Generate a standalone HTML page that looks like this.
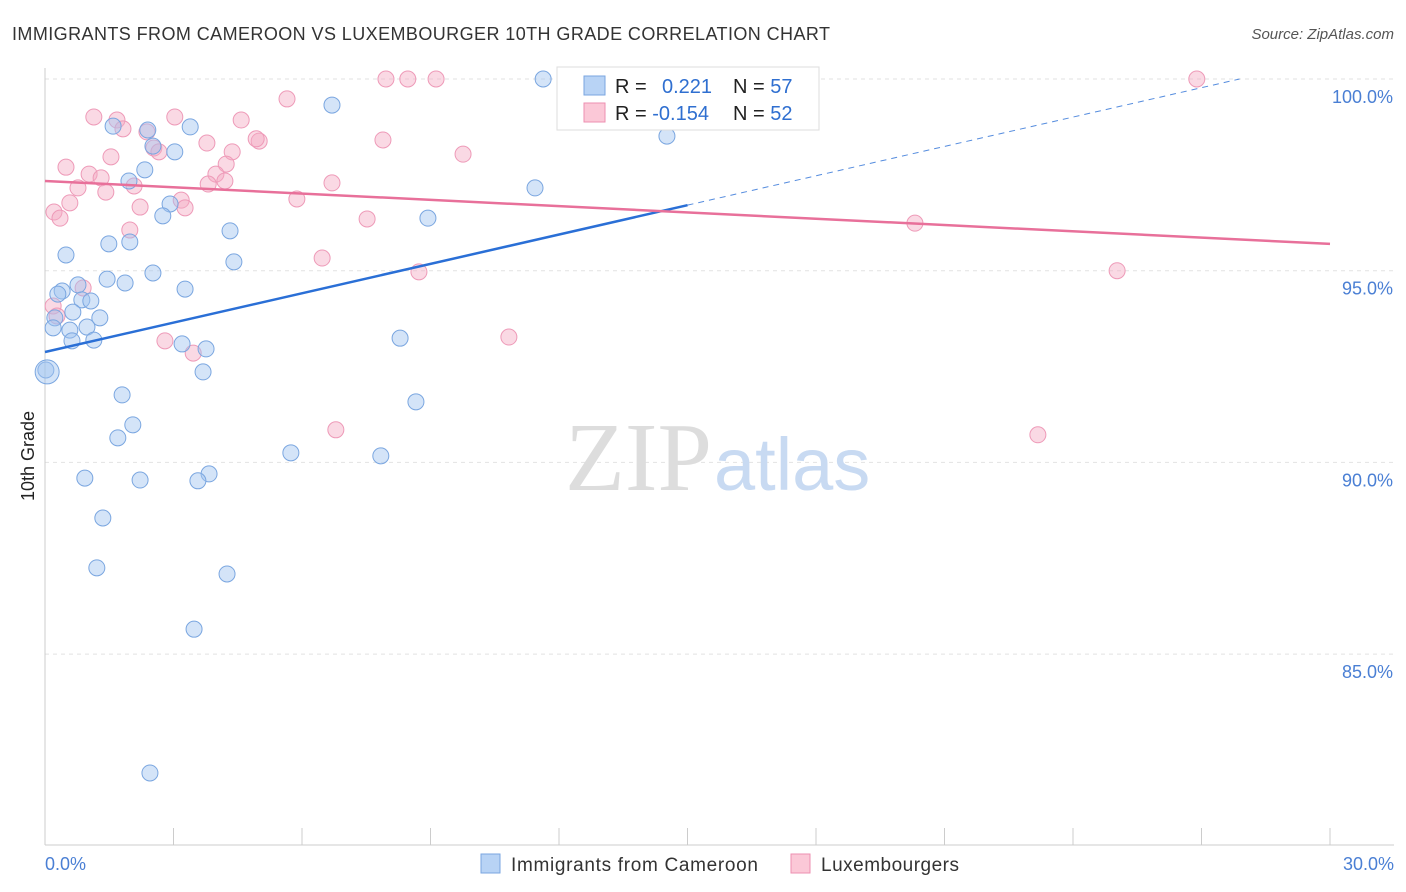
<!DOCTYPE html>
<html><head><meta charset="utf-8"><style>
body{margin:0;background:#fff;font-family:"Liberation Sans",sans-serif;}
svg{display:block}
</style></head><body>
<svg id="chart" width="1406" height="892">
<text x="12" y="40" font-size="18" fill="#333" textLength="818">IMMIGRANTS FROM CAMEROON VS LUXEMBOURGER 10TH GRADE CORRELATION CHART</text>
<text x="1394" y="39" font-size="15" fill="#555" font-style="italic" text-anchor="end">Source: ZipAtlas.com</text>
<g id="grid"></g>
<text x="712" y="490" font-size="98" font-family="Liberation Serif,serif" fill="#ddd" text-anchor="end">ZIP</text>
<text x="714" y="490" font-size="74" fill="#c8daf2">atlas</text>
<text transform="translate(34,456) rotate(-90)" font-size="18" fill="#222" text-anchor="middle">10th Grade</text>
<g id="pts"></g>
<g id="lines"></g>
<g>
<rect x="557" y="67" width="262" height="63" fill="#fff" stroke="#ddd"/>
<rect x="584" y="76" width="21" height="19" fill="#b8d3f5" stroke="#7aa6e0"/>
<rect x="584" y="103" width="21" height="19" fill="#fbc8d7" stroke="#ee8fb0"/>
<text x="615" y="93" font-size="20" fill="#222">R = <tspan fill="#2f6fd0" x="662">0.221</tspan></text>
<text x="733" y="93" font-size="20" fill="#222">N = <tspan fill="#2f6fd0">57</tspan></text>
<text x="615" y="120" font-size="20" fill="#222">R = <tspan fill="#2f6fd0">-0.154</tspan></text>
<text x="733" y="120" font-size="20" fill="#222">N = <tspan fill="#2f6fd0">52</tspan></text>
</g>
<text x="45" y="870" font-size="18" fill="#4a7fd4">0.0%</text>
<text x="1394" y="870" font-size="18" fill="#4a7fd4" text-anchor="end">30.0%</text>
<g>
<rect x="481" y="854" width="19" height="19" fill="#b8d3f5" stroke="#7aa6e0"/>
<text x="511" y="871" font-size="19" fill="#333" textLength="247">Immigrants from Cameroon</text>
<rect x="791" y="854" width="19" height="19" fill="#fbc8d7" stroke="#ee8fb0"/>
<text x="821" y="871" font-size="19" fill="#333" textLength="138">Luxembourgers</text>
</g>
</svg>
<script>
const blueX=[11.63,6.70,1.59,2.40,3.39,14.52,2.52,3.03,2.33,1.96,11.44,2.92,2.75,8.94,4.32,1.49,1.98,0.49,4.41,2.52,1.45,1.87,3.27,0.77,0.40,0.30,0.86,1.07,0.65,1.28,0.23,0.19,0.58,0.98,0.63,1.14,3.20,3.76,8.29,0.02,0.05,3.69,1.80,8.66,2.05,1.70,5.74,7.84,0.93,2.22,3.83,3.57,1.35,1.21,4.25,3.48,2.45];
const blueY=[100.0,99.32,98.77,98.67,98.75,98.51,98.25,98.10,97.63,97.34,97.16,96.74,96.43,96.37,96.04,95.70,95.75,95.41,95.23,94.94,94.78,94.68,94.52,94.63,94.47,94.39,94.24,94.21,93.92,93.77,93.77,93.51,93.45,93.53,93.17,93.19,93.09,92.96,93.24,92.41,92.36,92.36,91.76,91.58,90.98,90.64,90.25,90.17,89.59,89.54,89.70,89.52,88.55,87.25,87.09,85.65,81.90];
const pinkX=[26.89,7.96,8.47,9.13,5.65,1.14,3.03,1.68,1.82,2.38,4.58,5.00,4.93,3.78,2.54,2.66,4.37,7.89,9.76,1.54,4.23,0.49,3.99,1.03,1.31,2.08,3.81,4.20,6.70,0.77,1.42,3.18,5.88,0.58,2.22,3.27,0.21,0.35,7.52,20.31,1.98,6.47,8.73,25.03,0.89,0.19,2.80,3.46,10.83,6.79,23.18,0.28];
const pinkY=[100.0,100.0,100.0,100.0,99.48,99.01,99.01,98.93,98.70,98.62,98.93,98.38,98.44,98.33,98.20,98.10,98.10,98.41,98.04,97.97,97.78,97.70,97.52,97.52,97.42,97.21,97.26,97.34,97.29,97.16,97.05,96.84,96.87,96.77,96.66,96.64,96.53,96.37,96.35,96.24,96.06,95.33,94.97,95.0,94.55,94.08,93.17,92.85,93.27,90.85,90.72,93.82];
const yTicks=[100,95,90,85];
const yTickLabels=["100.0%","95.0%","90.0%","85.0%"];
const blueTrend=[92.88,0.2553];
const pinkTrend=[97.34,-0.0547];
const NS="http://www.w3.org/2000/svg";
const X=v=>45+v/30*1285;
const Y=v=>79+(100-v)/5*191.7;
function mk(tag,attrs,parent){const e=document.createElementNS(NS,tag);for(const k in attrs)e.setAttribute(k,attrs[k]);parent.appendChild(e);return e;}
const grid=document.getElementById('grid');
yTicks.forEach((t,i)=>{
 const l=mk('line',{x1:45,x2:1394,y1:Y(t),y2:Y(t),stroke:'#e2e2e2','stroke-dasharray':'4,4'},grid);
 
 
 const tx=mk('text',{x:1393,y:Y(t)+24,'font-size':18,fill:'#4a7fd4','text-anchor':'end'},grid);
 tx.textContent=yTickLabels[i];
 
 
});
const ax=mk('line',{x1:45,x2:45,y1:68,y2:845,stroke:'#ccc'},grid);


const bx=mk('line',{x1:45,x2:1394,y1:845,y2:845,stroke:'#ccc'},grid);


for(let i=0;i<=10;i++){
 const t=mk('line',{x1:X(i*3),x2:X(i*3),y1:828,y2:845,stroke:'#ccc'},grid);
 
 
}
const pts=document.getElementById('pts');
pinkX.forEach((x,i)=>{
 const c=mk('circle',{cx:X(x),cy:Y(pinkY[i]),r:8,fill:'rgba(245,170,195,0.45)',stroke:'#ee9ab8','stroke-width':1},pts);
 
 
});
blueX.forEach((x,i)=>{
 const r=(x<0.1&&blueY[i]<92.4)?12:8;
 const c=mk('circle',{cx:X(x),cy:Y(blueY[i]),r:r,fill:'rgba(160,195,240,0.45)',stroke:'#7aa6e0','stroke-width':1},pts);
 
 
});
const lines=document.getElementById('lines');
const bEnd=(100-blueTrend[0])/blueTrend[1];
const b1=mk('line',{x1:X(0),y1:Y(blueTrend[0]),x2:X(15),y2:Y(blueTrend[0]+15*blueTrend[1]),stroke:'#2a6fd6','stroke-width':2.5},lines);


const b2=mk('line',{x1:X(15),y1:Y(blueTrend[0]+15*blueTrend[1]),x2:X(bEnd),y2:Y(100),stroke:'#2a6fd6','stroke-width':1,'stroke-dasharray':'6,5','stroke-opacity':0.8},lines);


const p1=mk('line',{x1:X(0),y1:Y(pinkTrend[0]),x2:X(30),y2:Y(pinkTrend[0]+30*pinkTrend[1]),stroke:'#e8709a','stroke-width':2.5},lines);


</script>
</body></html>
